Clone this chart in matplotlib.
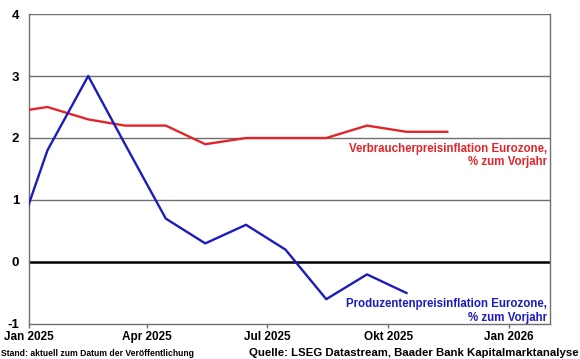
import matplotlib
matplotlib.use("Agg")
import matplotlib.pyplot as plt
import pandas as pd

# monthly values, plotted at mid-month
months = ["2024-12-15", "2025-01-15", "2025-02-15", "2025-03-15", "2025-04-15",
          "2025-05-15", "2025-06-15", "2025-07-15", "2025-08-15", "2025-09-15",
          "2025-10-15", "2025-11-15"]
hicp = [2.4, 2.5, 2.3, 2.2, 2.2, 1.9, 2.0, 2.0, 2.0, 2.2, 2.1, 2.1]
ppi = [-0.1, 1.8, 3.0, 1.9, 0.7, 0.3, 0.6, 0.2, -0.6, -0.2, -0.5, None]

tick_dates = ["2025-01-01", "2025-04-01", "2025-07-01", "2025-10-01", "2026-01-01"]
tick_labels = ["Jan 2025", "Apr 2025", "Jul 2025", "Okt 2025", "Jan 2026"]

plt.rcParams["font.family"] = ["Liberation Sans", "DejaVu Sans"]
plt.rcParams["axes.unicode_minus"] = False

dates = pd.to_datetime(months)
ppi_s = pd.Series(ppi, index=dates, dtype=float).dropna()

fig = plt.figure(figsize=(5.8, 3.59), dpi=100)
ax = fig.add_axes([0.05, 0.0975, 0.898, 0.8635])

red = "#e0262b"
blue = "#1c1cbc"

ax.plot(dates, hicp, color=red, lw=1.7, zorder=3)
ax.plot(ppi_s.index, ppi_s.values, color=blue, lw=1.7, zorder=3)

ax.set_xlim(pd.Timestamp("2025-01-01"), pd.Timestamp("2026-02-01"))
ax.set_ylim(-1, 4)
ax.set_yticks([-1, 0, 1, 2, 3, 4])
for v in [1, 2, 3, 4]:
    ax.axhline(v, color="#707070", lw=1.0, zorder=1)
ax.axhline(0, color="black", lw=1.8, zorder=2)

ax.set_xticks(pd.to_datetime(tick_dates))
ax.set_xticklabels(tick_labels, fontsize=8.5, fontweight="bold")
for lab in ax.get_yticklabels():
    lab.set_fontweight("bold")
    lab.set_fontsize(9.5)
ax.tick_params(axis="x", length=3, width=1, color="#707070", pad=2)
ax.tick_params(axis="y", length=0, pad=7)

for s in ["left", "right", "bottom"]:
    ax.spines[s].set_color("#707070")
    ax.spines[s].set_linewidth(1.0)
ax.spines["top"].set_visible(False)

ax.text(0.995, 0.585, "Verbraucherpreisinflation Eurozone,\n% zum Vorjahr",
        transform=ax.transAxes, ha="right", va="top", color=red,
        fontsize=8.3, fontweight="bold", linespacing=1.15)
ax.text(0.995, 0.083, "Produzentenpreisinflation Eurozone,\n% zum Vorjahr",
        transform=ax.transAxes, ha="right", va="top", color=blue,
        fontsize=8.3, fontweight="bold", linespacing=1.15)

fig.text(0.002, 0.004, "Stand: aktuell zum Datum der Veröffentlichung",
         fontsize=6.2, fontweight="bold", ha="left", va="bottom")
fig.text(0.997, 0.004, "Quelle: LSEG Datastream, Baader Bank Kapitalmarktanalyse",
         fontsize=8.2, fontweight="bold", ha="right", va="bottom")

fig.savefig("out.png", dpi=100)
